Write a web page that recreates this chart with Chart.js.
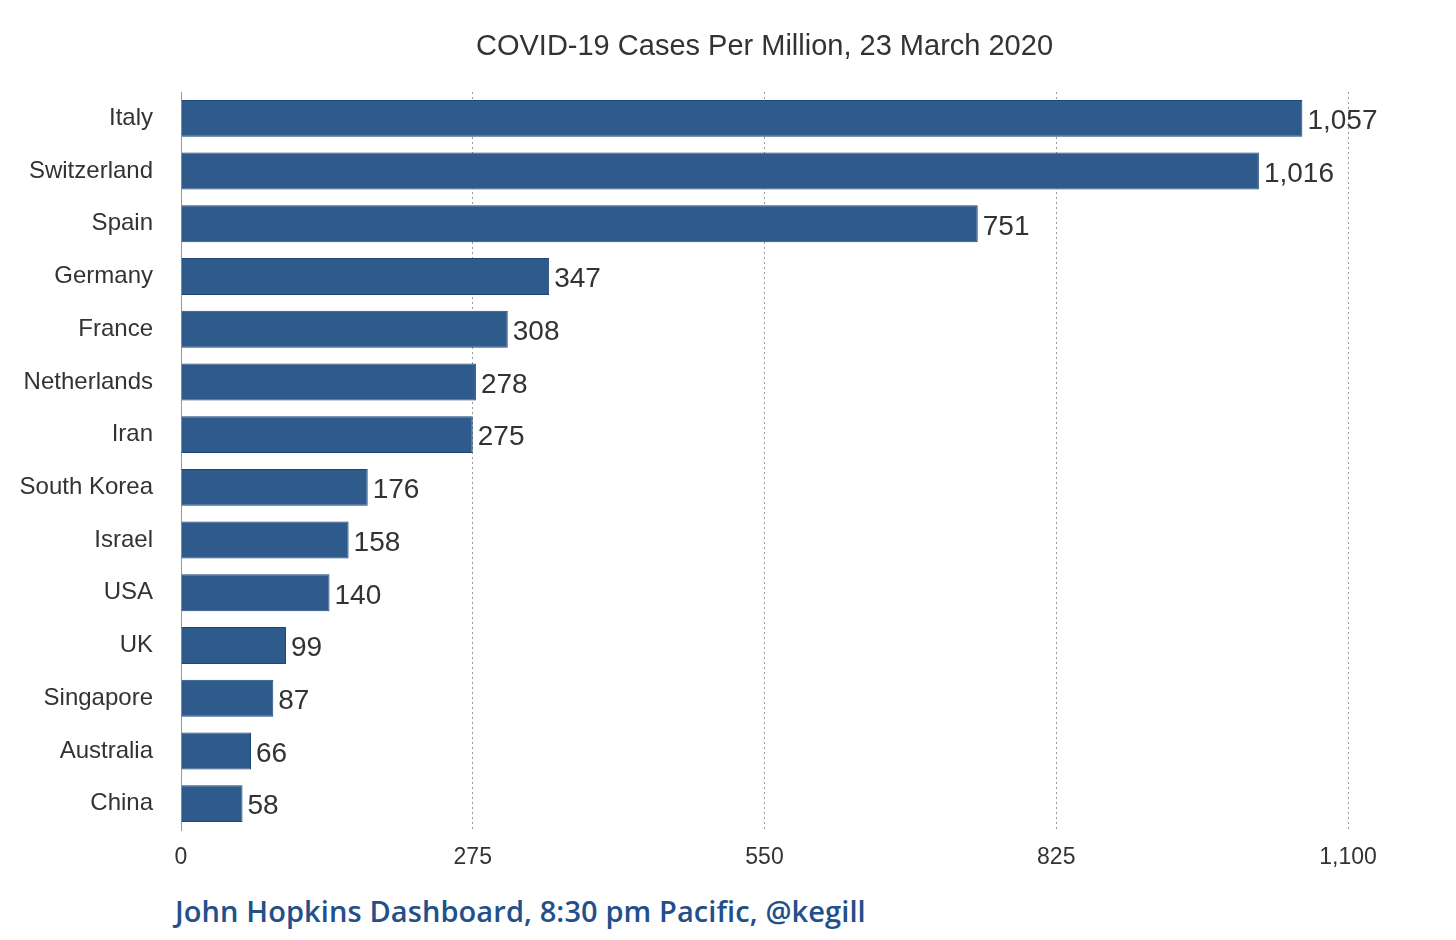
<!DOCTYPE html>
<html>
<head>
<meta charset="utf-8">
<script src="https://cdn.jsdelivr.net/npm/chart.js@4"></script>
<style>
  html, body { margin: 0; padding: 0; background: #fff; }
  #wrap { position: relative; width: 1456px; height: 940px; }
  #footer {
    position: absolute; left: 175px; top: 891px;
    font-family: "Open Sans", sans-serif; font-size: 29px; font-weight: 600;
    color: #22508a; letter-spacing: 0.1px;
  }
</style>
</head>
<body>
<div id="wrap">
  <canvas id="chart" width="1456" height="890"></canvas>
  <div id="footer">John Hopkins Dashboard, 8:30 pm Pacific, @kegill</div>
</div>
<script>
// Data
const countries = ['Italy', 'Switzerland', 'Spain', 'Germany', 'France', 'Netherlands', 'Iran',
  'South Korea', 'Israel', 'USA', 'UK', 'Singapore', 'Australia', 'China'];
const casesPerMillion = [1057, 1016, 751, 347, 308, 278, 275, 176, 158, 140, 99, 87, 66, 58];
const xTicks = [0, 275, 550, 825, 1100];
const chartTitle = 'COVID-19 Cases Per Million, 23 March 2020';

const barColor = '#2e5a8c';
const barEdge = '#1d4679';
const fontFamily = '"Liberation Sans", Arial, sans-serif';

// Title centred over the plot area, value labels at each bar end
const decorations = {
  id: 'decorations',
  afterDatasetsDraw(chart) {
    const ctx = chart.ctx;
    const area = chart.chartArea;
    const meta = chart.getDatasetMeta(0);
    ctx.save();
    ctx.fillStyle = '#333';
    ctx.textBaseline = 'middle';

    ctx.font = '29px ' + fontFamily;
    ctx.textAlign = 'center';
    ctx.fillText(chartTitle, (area.left + area.right) / 2, 47);

    ctx.font = '28px ' + fontFamily;
    ctx.textAlign = 'left';
    meta.data.forEach((bar, i) => {
      ctx.fillText(casesPerMillion[i].toLocaleString('en-US'), bar.x + 5, bar.y + 3);
    });
    ctx.restore();
  }
};

new Chart(document.getElementById('chart'), {
  type: 'bar',
  data: {
    labels: countries,
    datasets: [{
      data: casesPerMillion,
      backgroundColor: barColor,
      borderColor: barEdge,
      borderWidth: 1,
      categoryPercentage: 1,
      barPercentage: 0.7
    }]
  },
  options: {
    indexAxis: 'y',
    responsive: false,
    animation: false,
    layout: { padding: { left: 0, right: 108, top: 92, bottom: 0 } },
    plugins: {
      legend: { display: false },
      tooltip: { enabled: false },
      title: { display: false }
    },
    scales: {
      x: {
        min: 0,
        max: 1100,
        afterBuildTicks: axis => { axis.ticks = xTicks.map(v => ({ value: v })); },
        afterFit: axis => { axis.height = 60; },
        border: { display: false, dash: [2, 3] },
        grid: {
          color: ctx => ctx.tick && ctx.tick.value === 0 ? 'rgba(0,0,0,0)' : '#9a9a9a',
          lineWidth: 1,
          drawTicks: false
        },
        ticks: {
          color: '#333',
          padding: 14,
          font: { family: fontFamily, size: 23 }
        }
      },
      y: {
        afterFit: axis => { axis.width = 181; },
        border: { display: true, color: '#999', width: 1 },
        grid: { display: false, drawTicks: false },
        ticks: {
          color: '#333',
          padding: 28,
          font: { family: fontFamily, size: 24 }
        }
      }
    }
  },
  plugins: [decorations]
});
</script>
</body>
</html>
